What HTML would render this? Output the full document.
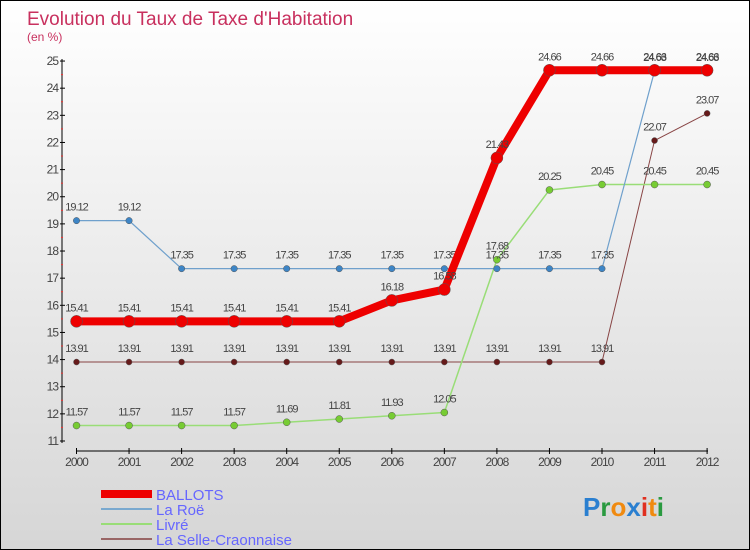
<!DOCTYPE html>
<html><head><meta charset="utf-8"><style>
body{margin:0}
#c{width:750px;height:550px;position:relative;box-sizing:border-box;border:1px solid #000;background:linear-gradient(#ffffff,#d6d6d6);font-family:"Liberation Sans",sans-serif;overflow:hidden}
</style></head><body>
<div id="c">
<svg id="s" width="748" height="548" style="position:absolute;left:0;top:0">
<text x="26" y="24" font-size="19" fill="#c8305e">Evolution du Taux de Taxe d'Habitation</text>
<text x="26" y="40" font-size="12" fill="#c8305e">(en %)</text>
<g id="axes"></g><g id="series"></g>
<g>
<rect x="100" y="489" width="51" height="8" fill="#e00"/>
<text x="155" y="499" font-size="15" fill="#6666ff">BALLOTS</text>
<rect x="100" y="507" width="51" height="2" fill="#7aa9cf"/>
<text x="155" y="514" font-size="15" fill="#6666ff">La Roë</text>
<rect x="100" y="522" width="51" height="2" fill="#99dd77"/>
<text x="155" y="529" font-size="15" fill="#6666ff">Livré</text>
<rect x="100" y="537" width="51" height="2" fill="#996666"/>
<text x="155" y="544" font-size="15" fill="#6666ff">La Selle-Craonnaise</text>
</g>
<text x="582" y="515" font-size="26" font-weight="bold"><tspan fill="#2a7fd0">P</tspan><tspan fill="#2a9a40">r</tspan><tspan fill="#f08a10">o</tspan><tspan fill="#2a7fd0">x</tspan><tspan fill="#e03020">i</tspan><tspan fill="#f08a10">t</tspan><tspan fill="#2a9a40">i</tspan></text>
</svg>
</div>
<script>
const years=[2000,2001,2002,2003,2004,2005,2006,2007,2008,2009,2010,2011,2012];
const yTicks=[11,12,13,14,15,16,17,18,19,20,21,22,23,24,25];
const ballots=[15.41,15.41,15.41,15.41,15.41,15.41,16.18,16.58,21.43,24.66,24.66,24.66,24.66];
const laRoe=[19.12,19.12,17.35,17.35,17.35,17.35,17.35,17.35,17.35,17.35,17.35,24.63,24.63];
const livre=[11.57,11.57,11.57,11.57,11.69,11.81,11.93,12.05,17.68,20.25,20.45,20.45,20.45];
const selle=[13.91,13.91,13.91,13.91,13.91,13.91,13.91,13.91,13.91,13.91,13.91,22.07,23.07];
const NS="http://www.w3.org/2000/svg";
const X=i=>75.5+i*52.55, Y=v=>440-(v-11)*27.14;
function mk(t,a,p){const e=document.createElementNS(NS,t);for(const k in a)e.setAttribute(k,a[k]);p.appendChild(e);return e;}
const ax=document.getElementById('axes'), sg=document.getElementById('series');
let e=mk('line',{x1:61,y1:58,x2:61,y2:442,stroke:'#000'},ax);


e=mk('line',{x1:75,y1:450,x2:707,y2:450,stroke:'#000'},ax);


yTicks.forEach(v=>{
 mk('line',{x1:59,x2:64,y1:Y(v),y2:Y(v),stroke:'#000'},ax);
 if(v<25)mk('line',{x1:60,x2:62,y1:Y(v+0.5),y2:Y(v+0.5),stroke:'#e33'},ax);
 const t=mk('text',{x:57,y:Y(v)+4,'font-size':12,fill:'#444','text-anchor':'end','letter-spacing':'-1'},ax);t.textContent=v;
 
 
});
years.forEach((y,i)=>{
 mk('line',{x1:X(i),x2:X(i),y1:447,y2:453,stroke:'#000'},ax);
 const t=mk('text',{x:X(i),y:465,'font-size':12,fill:'#444','text-anchor':'middle','letter-spacing':'-1'},ax);t.textContent=y;
 
 
});
function series(d,name,col,w,r,dot){
 const g=mk('g',{},sg);
 
 
 const p=mk('polyline',{points:d.map((v,i)=>X(i)+','+Y(v)).join(' '),fill:'none',stroke:col,'stroke-width':w,'stroke-linejoin':'round'},g);
 
 
 d.forEach((v,i)=>{
  const c=mk('circle',{cx:X(i),cy:Y(v),r:r,fill:dot,stroke:'#555','stroke-width':0.5},g);
  
  
  const t=mk('text',{x:X(i),y:Y(v)-10,'font-size':11,fill:'#444','text-anchor':'middle','letter-spacing':'-1'},g);
  t.textContent=v.toFixed(2).replace(/0$/,'').replace(/\.$/,'');
  
  
 });
}
series(selle,'la-selle-craonnaise','#884444',1,3,'#661a1a');
series(livre,'livre','#99dd77',1.5,3.5,'#77cc33');
series(laRoe,'la-roe','#6fa0cc',1.2,3.2,'#3d85c6');
series(ballots,'ballots','#ee0000',8,6,'#ee0000');
</script>
</body></html>
